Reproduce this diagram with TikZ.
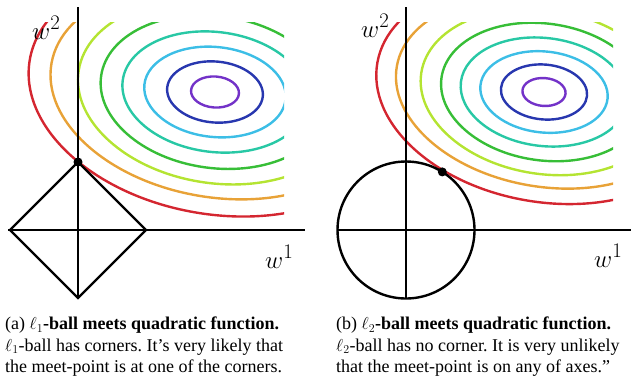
\documentclass[tikz,border=0pt]{standalone}
\usepackage{fontspec}
\setmainfont{Liberation Serif}
\usepackage{tikz}
\usetikzlibrary{calc}
\definecolor{lvA}{RGB}{115,50,200}
\definecolor{lvB}{RGB}{40,55,175}
\definecolor{lvC}{RGB}{60,190,230}
\definecolor{lvD}{RGB}{40,200,165}
\definecolor{lvE}{RGB}{55,190,55}
\definecolor{lvF}{RGB}{180,228,50}
\definecolor{lvG}{RGB}{232,162,55}
\definecolor{lvH}{RGB}{212,38,48}
\frenchspacing
\tikzset{
  axisln/.style={line width=2.6pt, black},
  ballln/.style={line width=2.4pt, black},
  lvl/.style={line width=2.4pt, draw=#1},
  meet/.style={circle, fill=black, inner sep=0pt, minimum size=9pt},
  wlbl/.style={font=\fontsize{28}{32}\selectfont, inner sep=0pt, anchor=base west},
  caption/.style={font=\fontsize{18}{21.5}\selectfont, align=left,
                  inner sep=0pt, anchor=north west}
}

\begin{document}
\begin{tikzpicture}[x=1pt, y=-1pt]
  \useasboundingbox (0,0) rectangle (631,381);
  \coordinate (oA) at (78,230);
  \coordinate (oB) at (406,230);

  % level sets, left
  \begin{scope}
    \clip (0,22) rectangle (284,381);
    \begin{scope}[shift={(215,92)}]
      \foreach \c/\a/\b/\t in {lvA/24/15.5/4, lvB/48/30.5/5, lvC/71/45/6,
                               lvD/93/60/7, lvE/115/76/8, lvF/138/91/9,
                               lvG/166/105/10, lvH/188/122/10}
        \draw[lvl=\c, rotate=-\t] (0,0) ellipse [x radius=\a pt, y radius=\b pt];
    \end{scope}
  \end{scope}

  % level sets, right (smaller)
  \begin{scope}
    \clip (320,22) rectangle (613,381);
    \begin{scope}[shift={(544,92)}, scale=0.9]
      \foreach \c/\a/\b/\t in {lvA/24/15.5/4, lvB/48/30.5/5, lvC/71/45/6,
                               lvD/93/60/7, lvE/115/76/8, lvF/138/91/9,
                               lvG/166/105/10, lvH/188/122/10}
        \draw[lvl=\c, rotate=-\t] (0,0) ellipse [x radius=\a pt, y radius=\b pt];
    \end{scope}
  \end{scope}

  \draw[axisln] (78,7) -- (78,298);
  \draw[axisln] (8,230) -- (305,230);
  \draw[axisln] (406,7) -- (406,298);
  \draw[axisln] (337,230) -- (631,230);

  \draw[ballln] (oA) ++(0,-68) -- ++(68,68) -- ++(-68,68) -- ++(-68,-68) -- cycle;
  \draw[ballln] (oB) circle [radius=68.5pt];

  \node[meet] (meetA) at ($(oA)+(0,-68)$) {};
  \path (oB) ++(-58:68.5) node[meet] (meetB) {};

  \node[wlbl] (wtwoA) at (32,39)  {$w^2$};
  \node[wlbl] (woneA) at (265,268) {$w^1$};
  \node[wlbl] (wtwoB) at (361,37)  {$w^2$};
  \node[wlbl] (woneB) at (594,267) {$w^1$};

  \node[caption] (capA) at (5,317)
    {(a) $\ell_1$\textbf{-ball meets quadratic function.}\\
     $\ell_1$-ball has corners. It’s very likely that\\
     the meet-point is at one of the corners.};
  \node[caption] (capB) at (336,317)
    {(b) $\ell_2$\textbf{-ball meets quadratic function.}\\
     $\ell_2$-ball has no corner. It is very unlikely\\
     that the meet-point is on any of axes.”};
\end{tikzpicture}
\end{document}
